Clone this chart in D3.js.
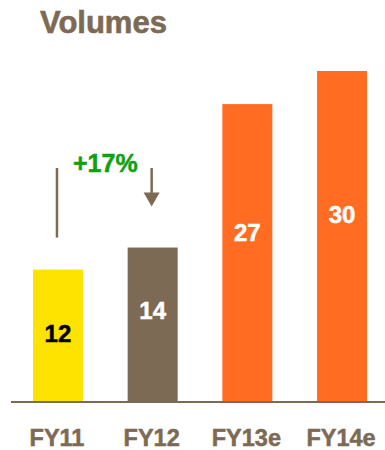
<!DOCTYPE html>
<html>
<head>
<meta charset="utf-8">
<script src="https://cdn.jsdelivr.net/npm/d3@7"></script>
<style>
  html, body { margin: 0; padding: 0; background: #fff; }
  svg { display: block; }
  text { font-family: "Liberation Sans", Arial, sans-serif; font-weight: bold; }
</style>
</head>
<body>
<svg id="chart" width="385" height="450"></svg>
<script>
const title = "Volumes";
const categories = ["FY11", "FY12", "FY13e", "FY14e"];
const values = [12, 14, 27, 30];
const barColors = ["#FFE300", "#7D6A55", "#FF6C22", "#FF6C22"];
const labelColors = ["#000000", "#FFFFFF", "#FFFFFF", "#FFFFFF"];
const growthLabel = "+17%";

const brown = "#7D6A55";
const green = "#12A012";

const svg = d3.select("#chart");

const x = d3.scaleBand()
  .domain(categories)
  .range([11, 389])
  .paddingInner(0.472)
  .paddingOuter(0.232);

const y = d3.scaleLinear()
  .domain([0, 30])
  .range([402, 71]);

// Title
svg.append("text")
  .attr("x", 40)
  .attr("y", 33)
  .attr("fill", brown)
  .attr("stroke", brown)
  .attr("stroke-width", 0.6)
  .style("font-size", "31px")
  .text(title);

// Bars
svg.selectAll("rect.bar")
  .data(values)
  .join("rect")
  .attr("class", "bar")
  .attr("x", (d, i) => x(categories[i]))
  .attr("y", d => y(d))
  .attr("width", x.bandwidth())
  .attr("height", d => y(0) - y(d))
  .attr("fill", (d, i) => barColors[i]);

// Value labels
svg.selectAll("text.val")
  .data(values)
  .join("text")
  .attr("class", "val")
  .attr("x", (d, i) => x(categories[i]) + x.bandwidth() / 2)
  .attr("y", (d, i) => y(d * (i === 0 ? 0.45 : 0.54)))
  .attr("text-anchor", "middle")
  .attr("fill", (d, i) => labelColors[i])
  .attr("stroke", (d, i) => labelColors[i])
  .attr("stroke-width", 0.5)
  .style("font-size", "24px")
  .text(d => d);

// Axis
const axis = d3.axisBottom(x).tickSize(0).tickPadding(0);
const gAxis = svg.append("g")
  .attr("transform", `translate(0,${y(0)})`)
  .call(axis);
gAxis.select(".domain")
  .attr("d", `M11,0H385`)
  .attr("stroke", brown)
  .attr("stroke-width", 2);
gAxis.selectAll(".tick text")
  .attr("x", -1)
  .attr("y", 44)
  .attr("dy", null)
  .attr("fill", brown)
  .attr("stroke", brown)
  .attr("stroke-width", 0.5)
  .style("font-size", "23.5px")
  .style("font-family", "'Liberation Sans', Arial, sans-serif")
  .style("font-weight", "bold");

// Growth annotation
const cx0 = x(categories[0]) + x.bandwidth() / 2 - 1;
const cx1 = x(categories[1]) + x.bandwidth() / 2 - 1;
const topY = 168;
svg.append("line")
  .attr("x1", cx0).attr("x2", cx0)
  .attr("y1", topY).attr("y2", y(values[0]) - 32)
  .attr("stroke", brown).attr("stroke-width", 2.5);
const tipY = y(values[1]) - 41;
svg.append("line")
  .attr("x1", cx1).attr("x2", cx1)
  .attr("y1", topY).attr("y2", tipY - 12)
  .attr("stroke", brown).attr("stroke-width", 2.5);
svg.append("path")
  .attr("d", `M${cx1 - 8},${tipY - 14}L${cx1 + 8},${tipY - 14}L${cx1},${tipY}Z`)
  .attr("fill", brown);
svg.append("text")
  .attr("x", (cx0 + cx1) / 2 + 1)
  .attr("y", 172)
  .attr("text-anchor", "middle")
  .attr("fill", green)
  .attr("stroke", green)
  .attr("stroke-width", 0.5)
  .style("font-size", "25px")
  .text(growthLabel);
</script>
</body>
</html>
